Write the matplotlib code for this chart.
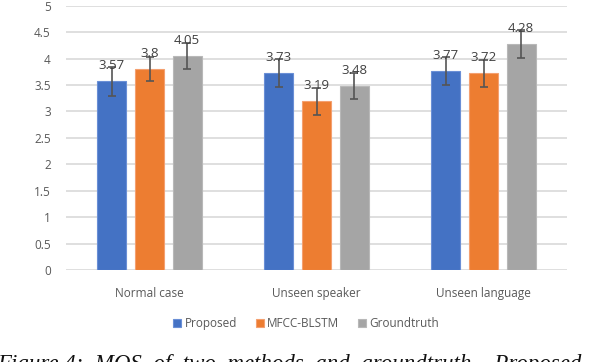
import numpy as np
import matplotlib.pyplot as plt

# Data
categories = ["Normal case", "Unseen speaker", "Unseen language"]
series_names = ["Proposed", "MFCC-BLSTM", "Groundtruth"]
proposed = [3.57, 3.73, 3.77]
mfcc_blstm = [3.80, 3.19, 3.72]
groundtruth = [4.05, 3.48, 4.28]
proposed_err = [0.28, 0.26, 0.26]
mfcc_err = [0.23, 0.26, 0.25]
groundtruth_err = [0.25, 0.24, 0.27]
yticks = [0, 0.5, 1, 1.5, 2, 2.5, 3, 3.5, 4, 4.5, 5]

colors = ["#4472c4", "#ed7d31", "#a5a5a5"]
edge_colors = ["#6a8fd6", "#f4a070", "#b8b8b8"]
text_grey = "#595959"

plt.rcParams['font.family'] = ['Open Sans', 'DejaVu Sans']

fig = plt.figure(figsize=(6, 3.62), dpi=100)
ax = fig.add_axes([0.11, 0.254, 0.835, 0.73])

x = np.arange(len(categories))
width = 0.174
offset = 0.225
all_vals = [proposed, mfcc_blstm, groundtruth]
all_errs = [proposed_err, mfcc_err, groundtruth_err]

for i, (vals, errs) in enumerate(zip(all_vals, all_errs)):
    pos = x + (i - 1) * offset
    ax.bar(pos, vals, width, color=colors[i], edgecolor=edge_colors[i],
           linewidth=0.8, label=series_names[i], zorder=2)
    ax.errorbar(pos, vals, yerr=errs, fmt='none', ecolor='#555555',
                elinewidth=1.2, capsize=3, capthick=1.2, zorder=3)
    for p, v in zip(pos, vals):
        ax.text(p, v + 0.17, f"{v:g}", ha='center', va='bottom',
                fontsize=9.5, color='#404040', zorder=4)

ax.set_xlim(-0.5, 2.5)
ax.set_ylim(0, 5)
ax.set_yticks(yticks)
ax.set_yticklabels([f"{t:g}" for t in yticks])
ax.set_xticks(x)
ax.set_xticklabels(categories)
ax.grid(axis='y', color='#d9d9d9', linewidth=1.2, zorder=0)
ax.set_axisbelow(True)
for s in ['top', 'right', 'left', 'bottom']:
    ax.spines[s].set_visible(False)
ax.tick_params(axis='both', length=0, colors=text_grey, labelsize=8.5)
ax.tick_params(axis='x', pad=12)
ax.tick_params(axis='y', pad=11)

fig.legend(loc='center', bbox_to_anchor=(0.51, 0.105), ncol=3, frameon=False,
           fontsize=8.5, handlelength=0.7, handleheight=0.7, handletextpad=0.25,
           columnspacing=1.6, labelcolor=text_grey)

# caption of the paper figure, cut off at the bottom edge
fig.text(-0.005, -0.022, "Figure 4:  MOS  of  two  methods  and  groundtruth.   Proposed",
         fontsize=16.5, family='Liberation Serif', style='italic', color='#111111',
         ha='left', va='baseline')

fig.savefig("out.png", dpi=100)
